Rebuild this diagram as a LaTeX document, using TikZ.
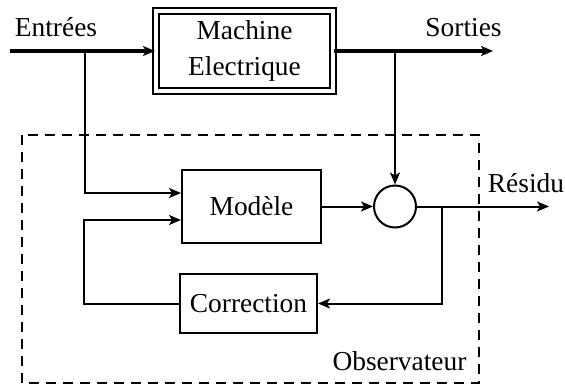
\documentclass[tikz,border=0pt]{standalone}
\usepackage{fontspec}
\setmainfont{Liberation Serif}
\usetikzlibrary{arrows.meta,calc}

\begin{document}
\begin{tikzpicture}[x=0.5pt, y=-0.5pt,
    every node/.style={font=\fontsize{13.7}{18}\selectfont},
    tip/.style={-{Stealth[length=6pt,width=5pt,inset=1.5pt]}},
    block/.style={draw, line width=1pt, inner sep=0pt, align=center},
    thickwire/.style={line width=2pt}]
  \useasboundingbox (0,0) rectangle (565,385);
  % observer frame
  \draw[line width=1pt, dash pattern=on 5pt off 3.5pt] (22,135) rectangle (479,383);
  \node[anchor=base] (obs) at (399.5,370) {Observateur};
  % blocks
  \node[draw, line width=1pt, double, double distance=2pt, inner sep=0pt, align=center,
        minimum width=88.5pt, minimum height=39.5pt] (machine) at (244.5,51) {Machine\\Electrique};
  \node[block, minimum width=69.5pt, minimum height=36.5pt] (modele) at (251.5,206.5) {Modèle};
  \node[block, minimum width=68.5pt, minimum height=29.5pt] (correction) at (248.5,303.5) {Correction};
  \node[draw, circle, line width=1pt, minimum size=21pt, inner sep=0pt] (sum) at (395,206.5) {};
  % wires ends and branch points
  \coordinate (in) at (10,51);
  \coordinate (out) at (493,51);
  \coordinate (res) at (549,206.5);
  \coordinate (b1) at (85,51);
  \coordinate (b2) at (395,51);
  \coordinate (b3) at (442,206.5);
  % labels
  \node[anchor=base] (entrees) at (56,37) {Entrées};
  \node[anchor=base] (sorties) at (463.5,37) {Sorties};
  \node[anchor=base] (residu) at (526,192) {Résidu};
  % top line
  \draw[thickwire, tip] (in) -- (machine);
  \draw[thickwire, tip] (machine) -- (out);
  % branches
  \draw[line width=1pt, tip] (b1) |- ([yshift=6.75pt]modele.west);
  \draw[line width=1pt, tip] (b2) -- (sum.north);
  \draw[line width=1pt, tip] (modele) -- (sum);
  \draw[line width=1pt, tip] (sum) -- (res);
  % feedback loop
  \draw[line width=1pt, tip] (b3) |- (correction.east);
  \draw[line width=1pt, tip] (correction.west) -- ++(-95,0) |- ([yshift=-6.75pt]modele.west);
\end{tikzpicture}
\end{document}
